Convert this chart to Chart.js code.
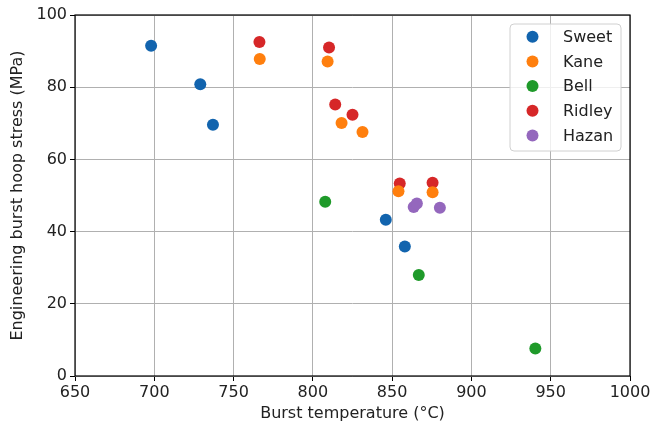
<!DOCTYPE html>
<html>
<head>
<meta charset="utf-8">
<script src="https://cdn.jsdelivr.net/npm/chart.js@4.4.0/dist/chart.umd.min.js"></script>
<style>
  body { margin: 0; background: #fff; }
</style>
</head>
<body>
<canvas id="myChart" width="654" height="425"></canvas>
<script>
// data
const seriesNames = ['Sweet', 'Kane', 'Bell', 'Ridley', 'Hazan'];
const seriesColors = ['#1264ae', '#ff7f0e', '#1f9a2a', '#d62728', '#9467bd'];

const sweetX = [698, 729, 737, 846, 858];
const sweetY = [91.5, 80.8, 69.6, 43.3, 35.9];

const kaneX = [766.5, 809.3, 818.1, 831.3, 854, 875.5];
const kaneY = [87.8, 87.1, 70.1, 67.6, 51.2, 50.9];

const bellX = [807.8, 866.8, 940.3];
const bellY = [48.3, 28.0, 7.6];

const ridleyX = [766.3, 810.2, 814.1, 825.0, 854.8, 875.5];
const ridleyY = [92.5, 91.0, 75.2, 72.4, 53.3, 53.5];

const hazanX = [863.6, 865.6, 880.1];
const hazanY = [46.8, 47.8, 46.6];

const xTicks = [650, 700, 750, 800, 850, 900, 950, 1000];
const yTicks = [0, 20, 40, 60, 80, 100];

function toPoints(xs, ys) {
    return xs.map((x, i) => ({ x: x, y: ys[i] }));
}

const allX = [sweetX, kaneX, bellX, ridleyX, hazanX];
const allY = [sweetY, kaneY, bellY, ridleyY, hazanY];

const datasets = seriesNames.map((name, i) => ({
    label: name,
    data: toPoints(allX[i], allY[i]),
    backgroundColor: seriesColors[i],
    borderColor: seriesColors[i],
    pointRadius: 6,
    pointBorderWidth: 0
}));

const fontFamily = "'DejaVu Sans', sans-serif";

// black box round the plot, like matplotlib spines
const frame = {
    id: 'frame',
    afterDatasetsDraw(chart) {
        const { ctx, chartArea: a } = chart;
        ctx.save();
        ctx.strokeStyle = '#000';
        ctx.lineWidth = 1.2;
        ctx.strokeRect(a.left, a.top, a.right - a.left, a.bottom - a.top);
        ctx.restore();
    }
};

// legend drawn inside the plot, top right
const innerLegend = {
    id: 'innerLegend',
    afterDraw(chart) {
        const { ctx, chartArea: a } = chart;
        const w = 111, rowH = 24.7, h = 127;
        const x0 = a.right - 9 - w, y0 = a.top + 9;
        ctx.save();
        ctx.fillStyle = 'rgba(255,255,255,0.8)';
        ctx.strokeStyle = '#d0d0d0';
        ctx.lineWidth = 1;
        ctx.beginPath();
        ctx.roundRect(x0, y0, w, h, 4);
        ctx.fill();
        ctx.stroke();
        ctx.font = '16px ' + fontFamily;
        ctx.textBaseline = 'middle';
        chart.data.datasets.forEach((ds, i) => {
            const cy = y0 + 12.7 + i * rowH;
            ctx.fillStyle = ds.backgroundColor;
            ctx.beginPath();
            ctx.arc(x0 + 22.5, cy, 6, 0, Math.PI * 2);
            ctx.fill();
            ctx.fillStyle = '#222';
            ctx.fillText(ds.label, x0 + 53, cy + 1);
        });
        ctx.restore();
    }
};

new Chart(document.getElementById('myChart'), {
    type: 'scatter',
    data: { datasets: datasets },
    options: {
        responsive: false,
        animation: false,
        layout: { padding: { top: 15, right: 24, left: 0, bottom: 0 } },
        plugins: {
            legend: { display: false },
            tooltip: { enabled: false }
        },
        scales: {
            x: {
                min: 650,
                max: 1000,
                afterBuildTicks: (s) => { s.ticks = xTicks.map(v => ({ value: v })); },
                afterFit: (s) => { s.height = 49; },
                grid: { color: '#b0b0b0', lineWidth: 1, tickColor: '#000', tickLength: 5 },
                border: { display: false },
                ticks: {
                    color: '#222',
                    font: { family: fontFamily, size: 16 },
                    padding: 2,
                    maxRotation: 0,
                    callback: (v) => String(v)
                },
                title: {
                    display: true,
                    text: 'Burst temperature (°C)',
                    color: '#222',
                    font: { family: fontFamily, size: 16 },
                    padding: { top: 0, bottom: 2 }
                }
            },
            y: {
                min: 0,
                max: 100,
                afterBuildTicks: (s) => { s.ticks = yTicks.map(v => ({ value: v })); },
                afterFit: (s) => { s.width = 75; },
                grid: { color: '#b0b0b0', lineWidth: 1, tickColor: '#000', tickLength: 5 },
                border: { display: false },
                ticks: {
                    color: '#222',
                    font: { family: fontFamily, size: 16 },
                    padding: 3,
                    callback: (v) => String(v)
                },
                title: {
                    display: true,
                    text: 'Engineering burst hoop stress (MPa)',
                    color: '#222',
                    font: { family: fontFamily, size: 16 },
                    padding: { top: 8, bottom: 0 }
                }
            }
        }
    },
    plugins: [frame, innerLegend]
});
</script>
</body>
</html>
